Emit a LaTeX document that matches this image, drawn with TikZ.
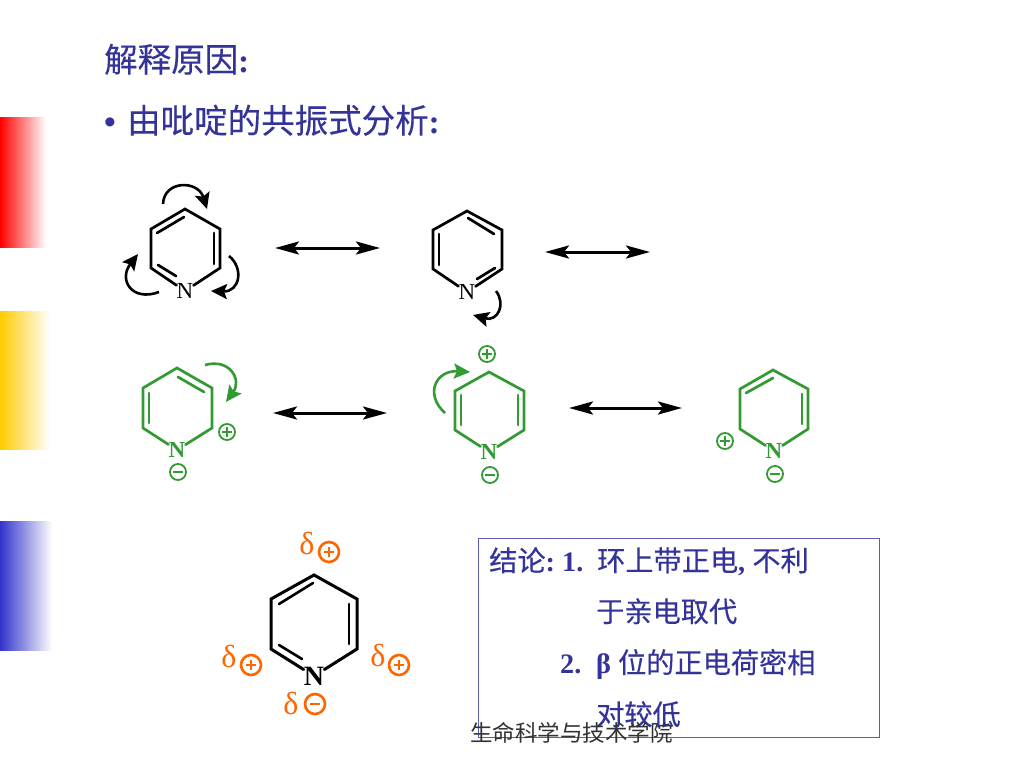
\documentclass[tikz,border=0pt]{standalone}
\usepackage{fontspec}
\usetikzlibrary{arrows.meta}
\setmainfont{Liberation Serif}
\newfontfamily\cjk[FakeBold=0.25]{Noto Sans CJK SC}
\newfontfamily\cjkfoot{Noto Sans CJK SC}
\definecolor{navy}{HTML}{333399}
\definecolor{grn}{HTML}{339933}
\definecolor{org}{HTML}{FF6600}
\tikzset{
  bond/.style={line width=2.7pt,line cap=round,line join=miter},
  curly/.style={line width=2.6pt,-{Stealth[length=16pt,width=15pt,inset=3pt]}},
  reso/.style={line width=3pt,{Stealth[length=24pt,width=13pt,inset=5pt]}-{Stealth[length=24pt,width=13pt,inset=5pt]}},
  natom/.style={inner sep=0pt,font=\fontsize{23}{23}\selectfont},
  chg/.style={circle,draw,inner sep=0pt,minimum size=16pt,line width=1.8pt},
  bigchg/.style={circle,draw,inner sep=0pt,minimum size=20pt,line width=2.6pt},
  title/.style={inner sep=0pt,anchor=base west,text=navy,font=\fontsize{33.5}{33.5}\selectfont},
  concl/.style={inner sep=0pt,anchor=base west,text=navy,font=\fontsize{28.2}{28.2}\selectfont},
  delta/.style={inner sep=0pt,text=org,font=\fontsize{32}{32}\selectfont}
}
\newcommand{\pluscharge}[5][chg]{%
  \node[#1,draw=#4] (#2) at (#3) {};
  \draw[#4,line width=#5] ([xshift=-5pt]#2.center) -- ([xshift=5pt]#2.center) ([yshift=-5pt]#2.center) -- ([yshift=5pt]#2.center);}
\newcommand{\minuscharge}[5][chg]{%
  \node[#1,draw=#4] (#2) at (#3) {};
  \draw[#4,line width=#5] ([xshift=-5pt]#2.center) -- ([xshift=5pt]#2.center);}
\begin{document}
\begin{tikzpicture}[x=1pt,y=-1pt]
\useasboundingbox (0,0) rectangle (1024,768);
\fill[white] (0,0) rectangle (1024,768);
% side bars
\shade[left color=red,right color=white] (0,117) rectangle (46,247);
\shade[left color={rgb,255:red,255;green,204;blue,0},right color=white] (0,311) rectangle (50,449);
\shade[left color={rgb,255:red,51;green,51;blue,204},right color=white] (0,521) rectangle (52,650);
% titles
\node[title] (t1) at (104,72) {{\cjk 解释原因}\textbf{:}};
\node[title] (t2) at (104,133) {\textbf{•}};
\node[title] (t3) at (127,133) {{\cjk 由吡啶的共振式分析}\textbf{:}};
% molecule 1
\node[natom] (n1) at (185,291) {N};
\coordinate (a1) at (151,229); \coordinate (a2) at (185,209); \coordinate (a3) at (220,229);
\coordinate (a4) at (220,268); \coordinate (a5) at (151,268);
\draw[bond] (n1) -- (a4) -- (a3) -- (a2) -- (a1) -- (a5) -- (n1);
\draw[bond] (157,233) -- (184,217);
\draw[bond] (214,233) -- (214,264);
\draw[bond] (158,265) -- (176,276);
\draw[curly] (163,204) .. controls (164,180) and (198,180) .. (207,209);
\draw[curly] (229,256) .. controls (244,268) and (240,292) .. (211,291);
\draw[curly] (159,292) .. controls (132,302) and (118,280) .. (138,254);
% arrows row 1
\coordinate (r1a) at (275,248); \coordinate (r1b) at (380,248);
\draw[reso] (r1a) -- (r1b);
\coordinate (r2a) at (545,252); \coordinate (r2b) at (650,252);
\draw[reso] (r2a) -- (r2b);
% molecule 2
\node[natom] (n2) at (467,292) {N};
\coordinate (b1) at (433,230); \coordinate (b2) at (467,211); \coordinate (b3) at (502,230);
\coordinate (b4) at (502,269); \coordinate (b5) at (433,269);
\draw[bond] (n2) -- (b4) -- (b3) -- (b2) -- (b1) -- (b5) -- (n2);
\draw[bond] (439,234) -- (439,265);
\draw[bond] (468,218) -- (494,234);
\draw[bond] (477,279) -- (495,268);
\draw[curly] (496,291) .. controls (506,304) and (498,322) .. (473,315);
% molecule 3 (green)
\begin{scope}[grn]
\node[natom,text=grn] (n3) at (177,450) {\textbf{N}};
\coordinate (c1) at (143,388); \coordinate (c2) at (177,368); \coordinate (c3) at (212,388);
\coordinate (c4) at (212,428); \coordinate (c5) at (143,428);
\draw[bond] (n3) -- (c4) -- (c3) -- (c2) -- (c1) -- (c5) -- (n3);
\draw[bond] (149,393) -- (149,423);
\draw[bond] (178,377) -- (204,392);
\draw[curly] (205,365) .. controls (230,358) and (242,380) .. (226,402);
\pluscharge{p3}{227,432}{grn}{1.8pt}
\minuscharge{m3}{178,472}{grn}{1.8pt}
% molecule 4
\node[natom,text=grn] (n4) at (489,452) {\textbf{N}};
\coordinate (d1) at (455,391); \coordinate (d2) at (489,372); \coordinate (d3) at (524,391);
\coordinate (d4) at (524,430); \coordinate (d5) at (455,430);
\draw[bond] (n4) -- (d4) -- (d3) -- (d2) -- (d1) -- (d5) -- (n4);
\draw[bond] (461,395) -- (461,425);
\draw[bond] (518,395) -- (518,425);
\draw[curly] (445,413) .. controls (424,394) and (436,370) .. (470,372);
\pluscharge{p4}{487,354}{grn}{1.8pt}
\minuscharge{m4}{490,475}{grn}{1.8pt}
% molecule 5
\node[natom,text=grn] (n5) at (774,451) {\textbf{N}};
\coordinate (e1) at (740,389); \coordinate (e2) at (773,370); \coordinate (e3) at (808,389);
\coordinate (e4) at (808,429); \coordinate (e5) at (740,429);
\draw[bond] (n5) -- (e4) -- (e3) -- (e2) -- (e1) -- (e5) -- (n5);
\draw[bond] (802,394) -- (802,424);
\draw[bond] (746,393) -- (773,378);
\pluscharge{p5}{725,441}{grn}{1.8pt}
\minuscharge{m5}{775,474}{grn}{1.8pt}
\end{scope}
\coordinate (r3a) at (273,413); \coordinate (r3b) at (387,413);
\draw[reso] (r3a) -- (r3b);
\coordinate (r4a) at (569,408); \coordinate (r4b) at (682,408);
\draw[reso] (r4a) -- (r4b);
% molecule 6
\node[natom,font=\fontsize{28}{28}\selectfont\bfseries] (n6) at (314,676) {N};
\coordinate (f1) at (271,599); \coordinate (f2) at (314,575); \coordinate (f3) at (357,599);
\coordinate (f4) at (357,649); \coordinate (f5) at (271,649);
\draw[bond,line width=3pt] (n6) -- (f4) -- (f3) -- (f2) -- (f1) -- (f5) -- (n6);
\draw[bond,line width=2.6pt] (279,604) -- (313,583);
\draw[bond,line width=2.6pt] (349,604) -- (349,644);
\draw[bond,line width=2.6pt] (279,645) -- (302,659);
\node[delta] (dl1) at (307,543) {δ};
\pluscharge[bigchg]{q1}{329,552}{org}{2.4pt}
\node[delta] (dl2) at (229,656) {δ};
\pluscharge[bigchg]{q2}{251,665}{org}{2.4pt}
\node[delta] (dl3) at (378,655) {δ};
\pluscharge[bigchg]{q3}{399,665}{org}{2.4pt}
\node[delta] (dl4) at (291,703) {δ};
\minuscharge[bigchg]{q4}{315,704}{org}{2.4pt}
% conclusion box
\draw[navy!80,line width=1pt] (478,538) rectangle (879,737);
\node[concl] (k1) at (489,571) {{\cjk 结论}\textbf{:}};
\node[concl] (k1b) at (562,571) {\textbf{1.}};
\node[concl] (k2) at (597,571) {{\cjk 环上带正电}\textbf{,} {\cjk 不利}};
\node[concl] (k3) at (596,622) {\cjk 于亲电取代};
\node[concl] (k4) at (560,673) {\textbf{2.}};
\node[concl] (k5) at (596,673) {\textbf{β} {\cjk 位的正电荷密相}};
\node[concl] (k6) at (596,725) {\cjk 对较低};
\node[inner sep=0pt,anchor=base west,text=black!80,font=\fontsize{22.5}{22.5}\selectfont] (foot) at (470,741) {\cjkfoot 生命科学与技术学院};
\end{tikzpicture}
\end{document}
